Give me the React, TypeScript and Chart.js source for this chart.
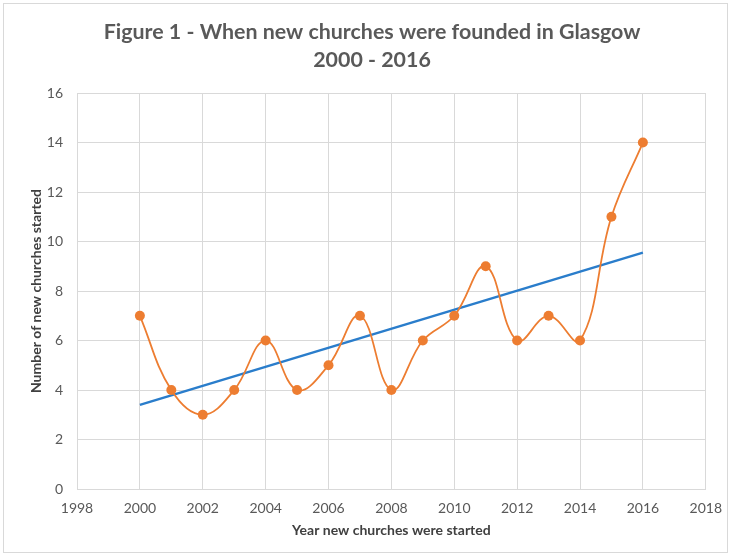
import React, { useEffect, useRef } from "react";
import { Chart, registerables } from "chart.js";

Chart.register(...registerables);

const years = [2000, 2001, 2002, 2003, 2004, 2005, 2006, 2007, 2008, 2009, 2010, 2011, 2012, 2013, 2014, 2015, 2016];
const churches = [7, 4, 3, 4, 6, 4, 5, 7, 4, 6, 7, 9, 6, 7, 6, 11, 14];
const trendYears = [2000, 2016];
const trendValues = [3.4, 9.55];
const titleLines = ["Figure 1 - When new churches were founded in Glasgow", "2000 - 2016"];
const xTitle = "Year new churches were started";
const yTitle = "Number of new churches started";

const FONT = "Lato, 'Open Sans', sans-serif";

export default function App() {
  const ref = useRef<HTMLCanvasElement | null>(null);
  useEffect(() => {
    if (!ref.current) return;
    const chart = new Chart(ref.current, {
      type: "scatter",
      data: {
        datasets: [
          {
            label: "Churches",
            data: years.map((y, i) => ({ x: y, y: churches[i] })),
            showLine: true,
            borderColor: "#ED7D31",
            backgroundColor: "#ED7D31",
            borderWidth: 1.8,
            pointRadius: 5,
            pointBorderWidth: 0,
            tension: 0.4,
          },
          {
            label: "Trend",
            data: trendYears.map((y, i) => ({ x: y, y: trendValues[i] })),
            showLine: true,
            borderColor: "#2A7DCB",
            backgroundColor: "#2A7DCB",
            borderWidth: 2.5,
            pointRadius: 0,
            tension: 0,
          },
        ],
      },
      options: {
        animation: false,
        responsive: false,
        layout: { padding: { left: 37, right: 26, top: 0, bottom: 0 } },
        plugins: {
          legend: { display: false },
          tooltip: { enabled: false },
          title: {
            display: true,
            text: titleLines,
            color: "#595959",
            font: { family: FONT, size: 21.4, weight: "bold", lineHeight: 1.31 },
            padding: { top: 18, bottom: 19 },
          },
        },
        scales: {
          x: {
            type: "linear",
            min: 1998,
            max: 2018,
            ticks: {
              stepSize: 2,
              color: "#595959",
              font: { family: FONT, size: 14 },
              padding: 11,
              maxRotation: 0,
              callback: (v: any) => String(v),
            },
            grid: { color: "#d9d9d9", lineWidth: 1, drawTicks: false },
            border: { color: "#d9d9d9" },
            title: {
              display: true,
              text: xTitle,
              color: "#404040",
              font: { family: FONT, size: 14, weight: "bold", lineHeight: 1.2 },
              padding: { top: 4, bottom: 19 },
            },
            afterFit: (s: any) => {
              s.height = 558 - 489;
            },
          },
          y: {
            min: 0,
            max: 16,
            ticks: {
              stepSize: 2,
              color: "#595959",
              font: { family: FONT, size: 14 },
              padding: 14,
            },
            grid: { color: "#d9d9d9", lineWidth: 1, drawTicks: false },
            border: { color: "#d9d9d9" },
            title: {
              display: true,
              text: yTitle,
              color: "#404040",
              font: { family: FONT, size: 14, weight: "bold", lineHeight: 1.2 },
              padding: { top: -9.4, bottom: 4 },
            },
            afterFit: (s: any) => {
              s.width = 40;
            },
          },
        },
      },
    });
    return () => chart.destroy();
  }, []);
  return (
    <div style={{ position: "absolute", left: 0, top: 0, width: 733, height: 558, background: "#fff" }}>
      <div
        style={{
          position: "absolute",
          left: 3,
          top: 3,
          width: 725,
          height: 550,
          border: "1px solid #d9d9d9",
          boxSizing: "border-box",
        }}
      />
      <canvas ref={ref} width={733} height={558} style={{ position: "absolute", left: 0, top: 0 }} />
    </div>
  );
}
